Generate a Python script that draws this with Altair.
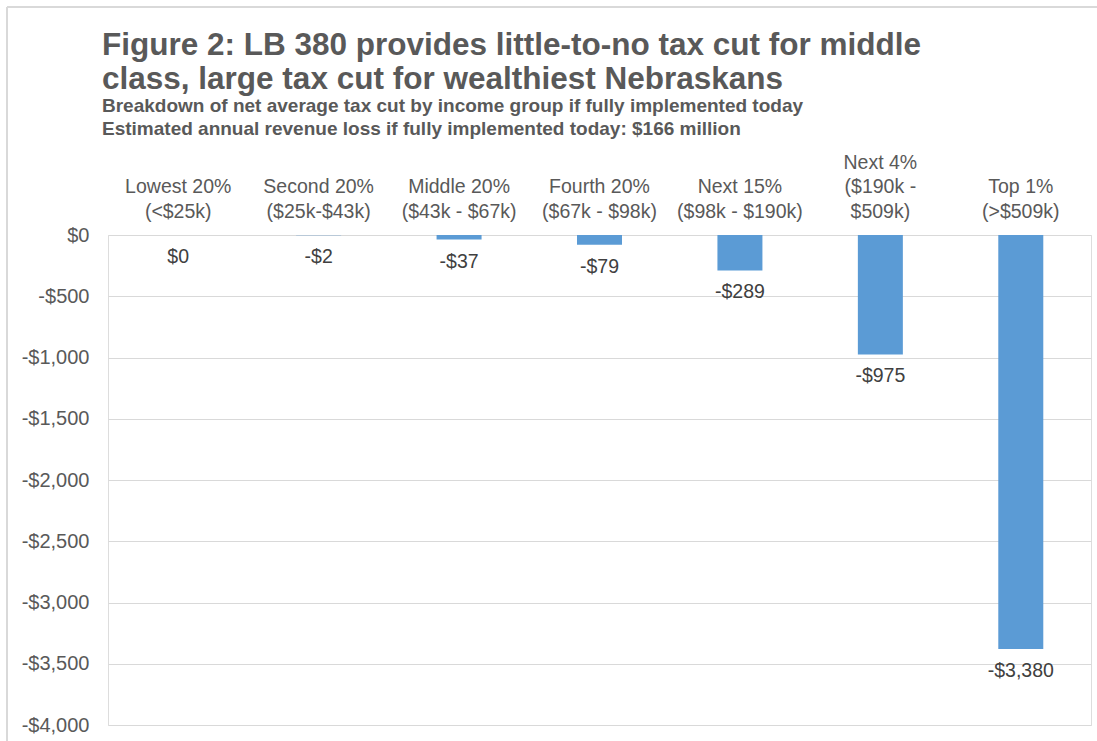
import altair as alt
import pandas as pd

groups = ["Lowest 20%", "Second 20%", "Middle 20%", "Fourth 20%", "Next 15%", "Next 4%", "Top 1%"]
ranges = ["(<$25k)", "($25k-$43k)", "($43k - $67k)", "($67k - $98k)", "($98k - $190k)", "($190k -|$509k)", "(>$509k)"]
values = [0, -2, -37, -79, -289, -975, -3380]
y_ticks = [0, -500, -1000, -1500, -2000, -2500, -3000, -3500, -4000]

df = pd.DataFrame({
    "cat": [g + "|" + r for g, r in zip(groups, ranges)],
    "value": values,
})

GRAY = "#595959"
FONT = "Liberation Sans"

x_enc = alt.X(
    "cat:N",
    sort=None,
    title=None,
    scale=alt.Scale(paddingInner=0.68, paddingOuter=0.34),
    axis=alt.Axis(
        orient="top",
        labelExpr="length(split(datum.label, '|')) < 3 ? split(' |' + datum.label, '|') : split(datum.label, '|')",
        labelAngle=0,
        labelFontSize=19.5,
        labelColor=GRAY,
        labelFont=FONT,
        labelLineHeight=24.5,
        labelPadding=63,
        ticks=False,
        domain=False,
        grid=False,
    ),
)

y_enc = alt.Y(
    "value:Q",
    title=None,
    scale=alt.Scale(domain=[-4000, 0], nice=False, zero=True),
    axis=alt.Axis(
        values=y_ticks,
        labelExpr="(datum.value < 0 ? '-' : '') + '$' + format(abs(datum.value), ',')",
        labelFontSize=20,
        labelColor=GRAY,
        labelFont=FONT,
        labelPadding=19,
        ticks=False,
        domain=False,
        grid=True,
        gridColor="#d9d9d9",
        gridWidth=1,
    ),
)

bars = alt.Chart(df).mark_bar(color="#5B9BD5", size=45).encode(x=x_enc, y=y_enc)

labels = alt.Chart(df).transform_calculate(
    lbl="(datum.value < 0 ? '-' : '') + '$' + format(abs(datum.value), ',')"
).mark_text(
    baseline="top", dy=13, fontSize=19.5, font=FONT, color="#404040"
).encode(x=alt.X("cat:N", sort=None), y="value:Q", text="lbl:N")

frame_top = alt.Chart(alt.Data(values=[{}])).mark_rule(color="#d9d9d9", strokeWidth=2).encode(
    x=alt.value(-101), x2=alt.value(989), y=alt.value(-228)
)
frame_left = alt.Chart(alt.Data(values=[{}])).mark_rule(color="#d9d9d9", strokeWidth=2).encode(
    x=alt.value(-101), y=alt.value(-228), y2=alt.value(506)
)

chart = alt.layer(bars, labels, frame_top, frame_left).properties(
    width=983,
    height=490,
    padding={"left": 108, "top": 235, "right": 6, "bottom": 16},
    autosize=alt.AutoSizeParams(type="none"),
    title=alt.TitleParams(
        text=["Figure 2: LB 380 provides little-to-no tax cut for middle",
              "class, large tax cut for wealthiest Nebraskans"],
        subtitle=["Breakdown of net average tax cut by income group if fully implemented today",
                  "Estimated annual revenue loss if fully implemented today: $166 million"],
        anchor="start",
        dx=96,
        font=FONT,
        fontSize=31.5,
        fontWeight="bold",
        color=GRAY,
        lineHeight=34,
        subtitleFont=FONT,
        subtitleFontSize=19,
        subtitleFontWeight="bold",
        subtitleColor=GRAY,
        subtitleLineHeight=23,
        subtitlePadding=2,
        offset=-133,
    ),
).configure_view(stroke=None).configure(background="white")

chart.save("out.html", embed_options={"renderer": "svg", "actions": False})
